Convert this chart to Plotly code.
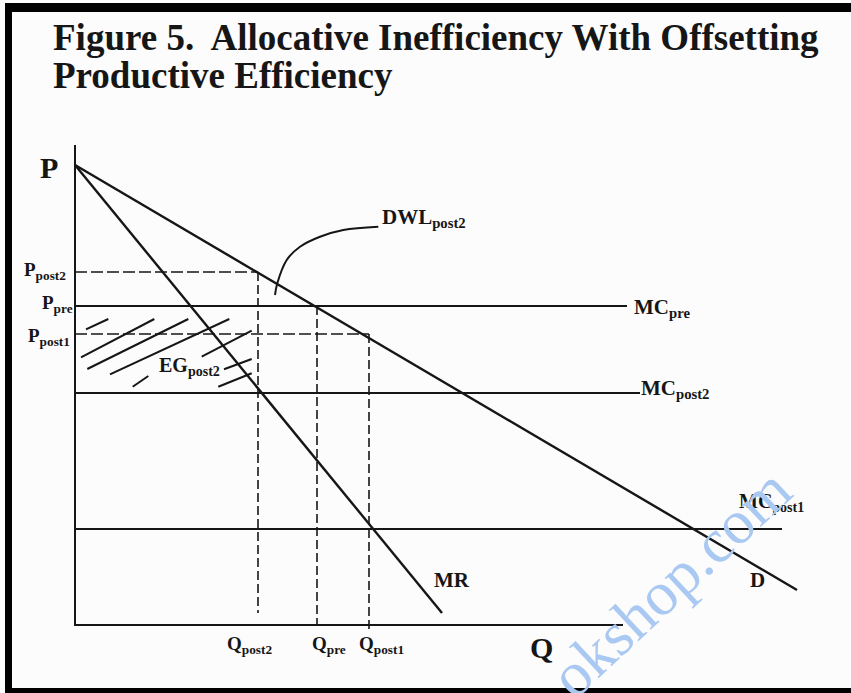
import plotly.graph_objects as go

# ---- data (Q, P units) ----
Q_D = [0.0, 72.2]
P_D = [46.0, 3.5]
Q_MR = [0.0, 36.7]
P_MR = [46.0, 1.2]

MC_levels = {"pre": 31.9, "post2": 23.2, "post1": 9.6}
MC_ends = {"pre": 55.2, "post2": 56.5, "post1": 70.7}

P_post2 = 35.3
P_pre = 31.9
P_post1 = 29.1
Q_post2 = 18.3
Q_pre = 24.2
Q_post1 = 29.4
Q_post2_bottom = 1.2
Q_post1_bottom = -0.5

Q_axis_end = 54.8
P_axis_top = 48.0

hatch_q0 = [1.10, 0.60, 1.23, 3.50, 5.77, 12.67, 14.90, 14.33]
hatch_p0 = [29.57, 26.77, 25.60, 25.07, 23.83, 26.83, 25.57, 23.83]
hatch_q1 = [3.33, 7.93, 11.33, 15.43, 7.33, 17.67, 17.67, 17.67]
hatch_p1 = [30.60, 30.60, 30.60, 30.60, 24.90, 29.43, 26.60, 25.17]

dwl_leader_q = [20.0, 20.23, 21.17, 22.5, 24.5, 26.83, 30.33]
dwl_leader_p = [33.0, 34.17, 36.5, 37.83, 38.83, 39.5, 39.83]

INK = "#161616"
SERIF = "Liberation Serif"

fig = go.Figure()

def line(xs, ys, width=2.0, dash=None, shape="linear"):
    fig.add_trace(go.Scatter(
        x=xs, y=ys, mode="lines",
        line=dict(color=INK, width=width, dash=dash, shape=shape),
        hoverinfo="skip", showlegend=False))

# axes of the diagram
line([0, 0, Q_axis_end], [P_axis_top, 0, 0], width=2.0)

# MC lines
for k in ["pre", "post2", "post1"]:
    line([0, MC_ends[k]], [MC_levels[k], MC_levels[k]], width=1.8)

# dashed guides
DASH_H = "12px,4px"
DASH_V = "9px,4px"
line([0, Q_post2], [P_post2, P_post2], width=1.6, dash=DASH_H)
line([0, Q_post1], [P_post1, P_post1], width=1.6, dash=DASH_H)
line([Q_post2, Q_post2], [P_post2, Q_post2_bottom], width=1.6, dash=DASH_V)
line([Q_pre, Q_pre], [P_pre, 0], width=1.6, dash=DASH_V)
line([Q_post1, Q_post1], [P_post1, Q_post1_bottom], width=1.6, dash=DASH_V)

# hatching for EG_post2
hx, hy = [], []
for a, b, c, d in zip(hatch_q0, hatch_p0, hatch_q1, hatch_p1):
    hx += [a, c, None]
    hy += [b, d, None]
line(hx, hy, width=2.0)

# demand and MR
line(Q_D, P_D, width=2.4)
line(Q_MR, P_MR, width=2.4)

# DWL leader curve
line(dwl_leader_q, dwl_leader_p, width=2.0, shape="spline")

def label(text, q, p, size=20, xanchor="left"):
    fig.add_annotation(x=q, y=p, xref="x", yref="y", text=text, showarrow=False,
                       xanchor=xanchor, yanchor="middle",
                       font=dict(family=SERIF, size=size, color=INK, weight="bold"))

label("P", -2.6, 45.8, size=30, xanchor="center")
label("Q", 45.3, -2.2, size=30)
label("P<sub>post2</sub>", -0.7, 35.4, size=19, xanchor="right")
label("P<sub>pre</sub>", 0.0, 32.1, size=19, xanchor="right")
label("P<sub>post1</sub>", -0.3, 28.8, size=19, xanchor="right")
label("DWL<sub>post2</sub>", 30.5, 40.7, size=21)
label("MC<sub>pre</sub>", 55.7, 31.7, size=21)
label("MC<sub>post2</sub>", 56.4, 23.6, size=21)
label("MC<sub>post1</sub>", 66.2, 12.3, size=20)
label("D", 67.3, 4.5, size=21)
label("MR", 35.7, 4.5, size=21)
label("EG<sub>post2</sub>", 8.2, 25.9, size=20)
label("Q<sub>post2</sub>", 15.0, -2.0, size=19)
label("Q<sub>pre</sub>", 23.5, -2.0, size=19)
label("Q<sub>post1</sub>", 28.2, -2.0, size=19)

# title
for txt, ypx in [("Figure 5.\u00a0 Allocative Inefficiency With Offsetting", 38),
                 ("Productive Efficiency", 75)]:
    fig.add_annotation(x=51 / 851, y=1 - ypx / 693, xref="paper", yref="paper",
                       text=txt, showarrow=False, xanchor="left", yanchor="middle",
                       font=dict(family=SERIF, size=37, color=INK, weight="bold"))

# frame bars
for x0, x1, y0, y1 in [(5, 851, 3, 12), (5, 12, 3, 693), (5, 851, 688, 693)]:
    fig.add_shape(type="rect", xref="paper", yref="paper",
                  x0=x0 / 851, x1=x1 / 851, y0=1 - y1 / 693, y1=1 - y0 / 693,
                  fillcolor="#000000", line=dict(width=0), layer="above")

# watermark
fig.add_annotation(x=59.5, y=4.2, xref="x", yref="y", text="okshop.com",
                   showarrow=False, textangle=-43,
                   font=dict(family=SERIF, size=62, color="#a9c8f2"))

fig.update_layout(
    width=851, height=693,
    margin=dict(l=0, r=0, t=0, b=0),
    paper_bgcolor="#fcfcfc", plot_bgcolor="#fcfcfc",
    xaxis=dict(range=[-7.5, 77.6], visible=False, fixedrange=True),
    yaxis=dict(range=[-6.8, 62.5], visible=False, fixedrange=True),
)

fig.write_html("out.html",
               config={"displayModeBar": False, "staticPlot": True},
               post_script="document.body.style.margin='0';document.body.style.padding='0';document.body.style.overflow='hidden';")
